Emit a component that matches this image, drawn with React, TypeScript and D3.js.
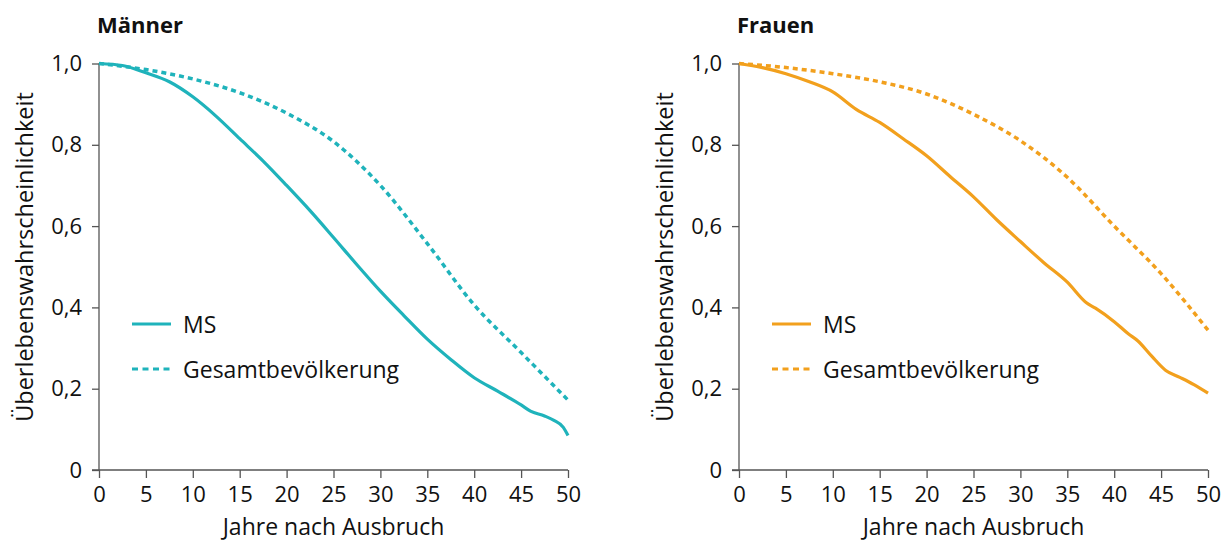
import React, { useEffect, useRef } from 'react';
import * as d3 from 'd3';

// Jahre nach Ausbruch
const years = [0, 2.5, 5, 7.5, 10, 12.5, 15, 17.5, 20, 22.5, 25, 27.5, 30, 32.5, 35, 37.5, 40, 42.5, 45, 46, 47.5, 48.5, 49.5, 50];
const menMS = [1.0, 0.995, 0.977, 0.955, 0.918, 0.87, 0.815, 0.76, 0.7, 0.638, 0.572, 0.505, 0.44, 0.38, 0.322, 0.272, 0.227, 0.194, 0.16, 0.145, 0.133, 0.122, 0.105, 0.085];

const popYears = [0, 5, 10, 15, 20, 25, 30, 35, 40, 45, 50];
const menPop = [1.0, 0.985, 0.962, 0.928, 0.878, 0.808, 0.7, 0.557, 0.406, 0.289, 0.172];

const womenYears = [0, 2.5, 5, 7.5, 10, 12.5, 15, 17.5, 20, 22.5, 25, 27.5, 30, 32.5, 35, 37, 38, 40, 41.5, 42.5, 44, 45.5, 47, 48.5, 50];
const womenMS = [1.0, 0.99, 0.975, 0.955, 0.93, 0.887, 0.855, 0.815, 0.773, 0.722, 0.672, 0.615, 0.562, 0.51, 0.462, 0.412, 0.398, 0.365, 0.335, 0.318, 0.28, 0.245, 0.228, 0.21, 0.189];
const womenPop = [1.0, 0.99, 0.975, 0.955, 0.925, 0.875, 0.81, 0.72, 0.6, 0.483, 0.344];

const xTicks = [0, 5, 10, 15, 20, 25, 30, 35, 40, 45, 50];
const yTicks = [0, 0.2, 0.4, 0.6, 0.8, 1.0];
const legendLabels = ['MS', 'Gesamtbevölkerung'];

const panels = [
  { title: 'Männer', color: '#1fb3bb', offset: 0, ms: years.map((y, i) => [y, menMS[i]]), pop: popYears.map((y, i) => [y, menPop[i]]) },
  { title: 'Frauen', color: '#f2a01d', offset: 640, ms: womenYears.map((y, i) => [y, womenMS[i]]), pop: popYears.map((y, i) => [y, womenPop[i]]) },
];

const font = '"Open Sans", "Noto Sans", sans-serif';

export default function App() {
  const ref = useRef<SVGSVGElement | null>(null);

  useEffect(() => {
    const svg = d3.select(ref.current);
    svg.selectAll('*').remove();

    const fmt = (v: number) => (v === 0 ? '0' : d3.format('.1f')(v).replace('.', ','));

    panels.forEach((p) => {
      const x = d3.scaleLinear().domain([0, 50]).range([99 + p.offset, 568 + p.offset]);
      const y = d3.scaleLinear().domain([0, 1]).range([470, 63.5]);
      const g = svg.append('g');

      // y axis
      const ya = g.append('g')
        .attr('transform', `translate(${x(0)},0)`)
        .call(d3.axisLeft(y).tickValues(yTicks).tickSize(7).tickPadding(10).tickFormat((d) => fmt(+d)));
      ya.select('.domain').attr('stroke', '#555').attr('stroke-width', 1.3).attr('d', `M0,${y(0)}V${y(1)}`);
      ya.selectAll('.tick line').attr('stroke', '#555').attr('stroke-width', 1.3);
      ya.selectAll('.tick text').attr('font-family', font).attr('font-size', 22).attr('fill', '#111');

      // x axis
      const xa = g.append('g')
        .attr('transform', `translate(0,${y(0)})`)
        .call(d3.axisBottom(x).tickValues(xTicks).tickSize(8).tickPadding(8).tickFormat((d) => String(d)));
      xa.select('.domain').attr('stroke', '#555').attr('stroke-width', 1.3).attr('d', `M${x(0) - 7},0H${x(50)}`);
      xa.selectAll('.tick line').attr('stroke', '#555').attr('stroke-width', 1.3);
      xa.selectAll('.tick text').attr('font-family', font).attr('font-size', 22).attr('fill', '#111');

      // titles
      g.append('text').attr('x', 97 + p.offset).attr('y', 33).text(p.title)
        .attr('font-family', font).attr('font-weight', 700).attr('font-size', 22).attr('fill', '#111');
      g.append('text').attr('x', (x(0) + x(50)) / 2).attr('y', 535).attr('text-anchor', 'middle')
        .text('Jahre nach Ausbruch').attr('font-family', font).attr('font-size', 23).attr('fill', '#111');
      g.append('text').attr('transform', `translate(${33 + p.offset},257) rotate(-90)`).attr('text-anchor', 'middle')
        .text('Überlebenswahrscheinlichkeit').attr('font-family', font).attr('font-size', 23.5).attr('fill', '#111');

      const line = d3.line<number[]>().x((d) => x(d[0])).y((d) => y(d[1])).curve(d3.curveMonotoneX);

      g.append('path').datum(p.pop).attr('d', line).attr('fill', 'none')
        .attr('stroke', p.color).attr('stroke-width', 3.5).attr('stroke-dasharray', '5,4');
      g.append('path').datum(p.ms).attr('d', line).attr('fill', 'none')
        .attr('stroke', p.color).attr('stroke-width', 3.2);

      // legend
      legendLabels.forEach((lab, i) => {
        const ly = 324 + i * 45;
        g.append('line').attr('x1', 132 + p.offset).attr('x2', 171 + p.offset).attr('y1', ly).attr('y2', ly)
          .attr('stroke', p.color).attr('stroke-width', 3.2).attr('stroke-dasharray', i === 1 ? '6,4.5' : null);
        g.append('text').attr('x', 183 + p.offset).attr('y', ly + 8.5).text(lab)
          .attr('font-family', font).attr('font-size', 23).attr('fill', '#111');
      });
    });
  }, []);

  return (
    <svg ref={ref} width={1229} height={542} style={{ position: 'absolute', left: 0, top: 0, background: '#fff' }} />
  );
}
